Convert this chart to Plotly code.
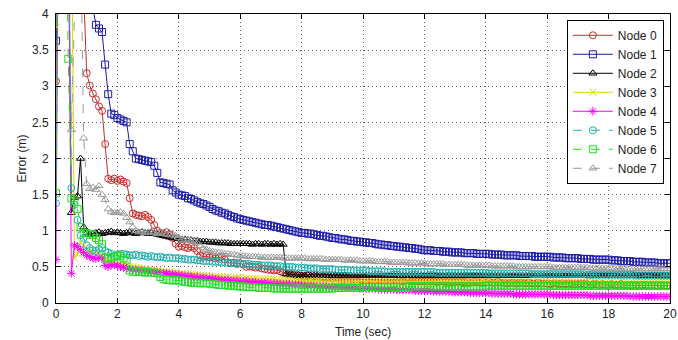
import plotly.graph_objects as go

time_s = [i / 10 for i in range(201)]

node0 = [
    3.07, 7.5, 7.0, 6.6, 6.0, 5.4, 4.9, 4.6, 4.4, 4.3,
    3.18, 3.01, 2.9, 2.82, 2.72, 2.66, 2.2, 1.72, 1.7, 1.72,
    1.69, 1.71, 1.68, 1.66, 1.45, 1.24, 1.22, 1.21, 1.2, 1.22,
    1.19, 1.15, 1.08, 1.0, 0.97, 0.96, 0.98, 0.95, 0.9, 0.82,
    0.78, 0.79, 0.77, 0.76, 0.78, 0.76, 0.72, 0.66, 0.64, 0.65,
    0.63, 0.64, 0.62, 0.63, 0.64, 0.6, 0.56, 0.55, 0.56, 0.54,
    0.55, 0.53, 0.5, 0.51, 0.5, 0.49, 0.5, 0.48, 0.47, 0.46,
    0.46, 0.45, 0.46, 0.44, 0.42, 0.41, 0.4, 0.4, 0.39, 0.38,
    0.38, 0.37, 0.38, 0.36, 0.37, 0.36, 0.35, 0.36, 0.35, 0.35,
    0.34, 0.35, 0.34, 0.34, 0.33, 0.34, 0.33, 0.33, 0.34, 0.33,
    0.33, 0.32, 0.33, 0.32, 0.32, 0.33, 0.32, 0.31, 0.32, 0.31,
    0.32, 0.31, 0.31, 0.3, 0.31, 0.31, 0.3, 0.31, 0.3, 0.3,
    0.3, 0.31, 0.3, 0.3, 0.29, 0.3, 0.3, 0.29, 0.3, 0.29,
    0.29, 0.3, 0.29, 0.29, 0.29, 0.28, 0.29, 0.29, 0.28, 0.29,
    0.28, 0.29, 0.28, 0.28, 0.29, 0.28, 0.28, 0.27, 0.28, 0.28,
    0.27, 0.28, 0.28, 0.27, 0.28, 0.27, 0.27, 0.28, 0.27, 0.27,
    0.27, 0.26, 0.27, 0.27, 0.26, 0.27, 0.26, 0.27, 0.26, 0.26,
    0.26, 0.27, 0.26, 0.26, 0.25, 0.26, 0.26, 0.25, 0.26, 0.25,
    0.25, 0.26, 0.25, 0.25, 0.26, 0.25, 0.25, 0.24, 0.25, 0.25,
    0.24, 0.25, 0.25, 0.24, 0.25, 0.24, 0.24, 0.25, 0.24, 0.24,
    0.24,
]

node1 = [
    3.63, 9.0, 8.6, 8.2, 7.8, 7.4, 7.0, 6.6, 6.2, 5.8,
    5.3, 4.8, 4.1, 3.85, 3.8, 3.75, 3.3, 2.89, 2.62, 2.6,
    2.56, 2.54, 2.52, 2.5, 2.2, 2.1, 2.0, 1.99, 1.98, 1.97,
    1.96, 1.95, 1.9, 1.8, 1.67, 1.66, 1.65, 1.64, 1.56, 1.53,
    1.5, 1.49, 1.48, 1.45, 1.44, 1.42, 1.4, 1.38, 1.37, 1.35,
    1.33, 1.3, 1.28, 1.27, 1.25, 1.24, 1.22, 1.2, 1.19, 1.17,
    1.16, 1.15, 1.14, 1.13, 1.12, 1.11, 1.1, 1.09, 1.08, 1.08,
    1.07, 1.06, 1.05, 1.04, 1.03, 1.02, 1.01, 1.0, 0.99, 0.98,
    0.97, 0.97, 0.96, 0.96, 0.95, 0.94, 0.93, 0.93, 0.92, 0.91,
    0.9, 0.9, 0.89, 0.88, 0.88, 0.87, 0.86, 0.86, 0.85, 0.85,
    0.84, 0.84, 0.83, 0.83, 0.82, 0.81, 0.81, 0.8, 0.8, 0.79,
    0.79, 0.78, 0.78, 0.77, 0.77, 0.76, 0.76, 0.75, 0.75, 0.74,
    0.73, 0.73, 0.73, 0.72, 0.72, 0.72, 0.71, 0.71, 0.71, 0.7,
    0.7, 0.7, 0.7, 0.69, 0.69, 0.69, 0.69, 0.68, 0.68, 0.68,
    0.68, 0.68, 0.67, 0.67, 0.67, 0.67, 0.66, 0.66, 0.66, 0.66,
    0.66, 0.65, 0.65, 0.65, 0.65, 0.65, 0.64, 0.64, 0.64, 0.64,
    0.64, 0.64, 0.63, 0.63, 0.63, 0.63, 0.62, 0.62, 0.62, 0.62,
    0.62, 0.61, 0.61, 0.61, 0.61, 0.6, 0.6, 0.6, 0.6, 0.6,
    0.6, 0.59, 0.59, 0.59, 0.58, 0.58, 0.58, 0.58, 0.57, 0.57,
    0.57, 0.57, 0.56, 0.56, 0.56, 0.56, 0.55, 0.55, 0.55, 0.55,
    0.55,
]

node2 = [
    6.0, 6.5, 6.2, 5.8, 5.4, 1.25, 1.46, 1.48, 2.0, 1.05,
    0.97, 0.95, 0.96, 0.97, 0.98, 0.96, 0.97, 0.98, 0.99, 0.97,
    0.98, 0.97, 0.96, 0.97, 0.98, 0.97, 0.96, 0.97, 0.98, 0.97,
    0.96, 0.97, 0.96, 0.95, 0.94, 0.93, 0.92, 0.91, 0.9, 0.9,
    0.89, 0.88, 0.88, 0.87, 0.87, 0.86, 0.86, 0.85, 0.85, 0.85,
    0.84, 0.84, 0.84, 0.83, 0.83, 0.83, 0.83, 0.82, 0.82, 0.82,
    0.82, 0.82, 0.82, 0.82, 0.81, 0.82, 0.82, 0.81, 0.82, 0.82,
    0.81, 0.82, 0.81, 0.82, 0.81, 0.4, 0.39, 0.39, 0.38, 0.39,
    0.38, 0.38, 0.39, 0.38, 0.38, 0.38, 0.38, 0.38, 0.38, 0.38,
    0.38, 0.38, 0.38, 0.38, 0.38, 0.38, 0.38, 0.38, 0.38, 0.38,
    0.38, 0.38, 0.38, 0.38, 0.38, 0.38, 0.38, 0.38, 0.38, 0.38,
    0.38, 0.38, 0.38, 0.38, 0.38, 0.38, 0.38, 0.38, 0.38, 0.38,
    0.38, 0.38, 0.38, 0.38, 0.38, 0.38, 0.38, 0.38, 0.38, 0.38,
    0.38, 0.38, 0.38, 0.38, 0.38, 0.38, 0.38, 0.38, 0.38, 0.38,
    0.38, 0.38, 0.38, 0.38, 0.38, 0.38, 0.38, 0.38, 0.38, 0.38,
    0.38, 0.38, 0.38, 0.38, 0.38, 0.38, 0.38, 0.38, 0.38, 0.38,
    0.38, 0.38, 0.38, 0.38, 0.38, 0.38, 0.38, 0.38, 0.38, 0.38,
    0.38, 0.38, 0.38, 0.38, 0.38, 0.38, 0.38, 0.38, 0.38, 0.38,
    0.38, 0.38, 0.38, 0.38, 0.38, 0.38, 0.38, 0.38, 0.38, 0.38,
    0.38, 0.38, 0.38, 0.38, 0.38, 0.38, 0.38, 0.38, 0.38, 0.38,
    0.38,
]

node3 = [
    3.82, 8.0, 7.5, 7.0, 6.5, 6.0, 0.62, 0.68, 0.85, 0.8,
    0.75, 0.72, 0.7, 0.68, 0.7, 0.65, 0.6, 0.58, 0.57, 0.56,
    0.55, 0.54, 0.53, 0.52, 0.5, 0.5, 0.49, 0.48, 0.48, 0.47,
    0.46, 0.46, 0.45, 0.45, 0.44, 0.44, 0.43, 0.43, 0.42, 0.42,
    0.41, 0.41, 0.4, 0.4, 0.4, 0.39, 0.39, 0.38, 0.38, 0.38,
    0.37, 0.37, 0.37, 0.36, 0.36, 0.36, 0.36, 0.35, 0.35, 0.35,
    0.35, 0.34, 0.34, 0.34, 0.34, 0.34, 0.33, 0.33, 0.33, 0.33,
    0.33, 0.33, 0.32, 0.32, 0.32, 0.32, 0.32, 0.32, 0.31, 0.31,
    0.31, 0.31, 0.31, 0.31, 0.31, 0.31, 0.31, 0.3, 0.3, 0.3,
    0.3, 0.3, 0.3, 0.3, 0.3, 0.3, 0.3, 0.3, 0.3, 0.3,
    0.3, 0.3, 0.3, 0.3, 0.3, 0.3, 0.3, 0.3, 0.3, 0.3,
    0.3, 0.3, 0.3, 0.3, 0.3, 0.3, 0.3, 0.3, 0.3, 0.3,
    0.3, 0.3, 0.3, 0.3, 0.3, 0.3, 0.3, 0.3, 0.3, 0.3,
    0.3, 0.3, 0.3, 0.3, 0.3, 0.3, 0.3, 0.3, 0.3, 0.3,
    0.3, 0.3, 0.3, 0.3, 0.3, 0.29, 0.29, 0.29, 0.29, 0.29,
    0.29, 0.29, 0.29, 0.29, 0.29, 0.29, 0.29, 0.29, 0.29, 0.29,
    0.29, 0.29, 0.29, 0.29, 0.29, 0.29, 0.29, 0.29, 0.29, 0.29,
    0.29, 0.29, 0.29, 0.29, 0.29, 0.29, 0.29, 0.29, 0.29, 0.29,
    0.29, 0.29, 0.29, 0.29, 0.29, 0.29, 0.29, 0.29, 0.29, 0.29,
    0.29, 0.29, 0.29, 0.29, 0.29, 0.29, 0.29, 0.29, 0.29, 0.29,
    0.29,
]

node4 = [
    0.6, 7.0, 6.5, 6.0, 5.5, 0.41, 0.8, 0.78, 0.74, 0.7,
    0.66, 0.64, 0.62, 0.61, 0.63, 0.62, 0.52, 0.5, 0.53, 0.52,
    0.52, 0.5, 0.49, 0.48, 0.47, 0.46, 0.46, 0.45, 0.45, 0.44,
    0.44, 0.43, 0.43, 0.42, 0.42, 0.41, 0.41, 0.4, 0.4, 0.39,
    0.39, 0.38, 0.38, 0.37, 0.37, 0.36, 0.36, 0.35, 0.35, 0.34,
    0.34, 0.34, 0.33, 0.33, 0.32, 0.32, 0.32, 0.31, 0.31, 0.31,
    0.3, 0.3, 0.3, 0.29, 0.29, 0.29, 0.28, 0.28, 0.28, 0.28,
    0.27, 0.27, 0.27, 0.26, 0.26, 0.26, 0.26, 0.25, 0.25, 0.25,
    0.25, 0.24, 0.24, 0.24, 0.24, 0.23, 0.23, 0.23, 0.23, 0.22,
    0.22, 0.22, 0.22, 0.22, 0.21, 0.21, 0.21, 0.21, 0.21, 0.2,
    0.2, 0.2, 0.2, 0.2, 0.2, 0.19, 0.19, 0.19, 0.19, 0.19,
    0.19, 0.18, 0.18, 0.18, 0.18, 0.18, 0.18, 0.17, 0.17, 0.17,
    0.17, 0.17, 0.17, 0.16, 0.16, 0.16, 0.16, 0.16, 0.16, 0.15,
    0.15, 0.15, 0.15, 0.15, 0.15, 0.14, 0.14, 0.14, 0.14, 0.14,
    0.14, 0.14, 0.13, 0.13, 0.13, 0.13, 0.13, 0.13, 0.13, 0.12,
    0.12, 0.12, 0.12, 0.12, 0.12, 0.12, 0.12, 0.12, 0.12, 0.12,
    0.12, 0.12, 0.11, 0.11, 0.11, 0.11, 0.11, 0.11, 0.11, 0.11,
    0.11, 0.11, 0.11, 0.11, 0.1, 0.1, 0.1, 0.1, 0.1, 0.1,
    0.1, 0.1, 0.1, 0.1, 0.1, 0.1, 0.1, 0.09, 0.09, 0.09,
    0.09, 0.09, 0.09, 0.09, 0.09, 0.09, 0.09, 0.09, 0.09, 0.09,
    0.09,
]

node5 = [
    1.38, 7.0, 6.6, 6.2, 5.8, 1.59, 1.36, 1.15, 0.94, 0.9,
    0.8, 0.76, 0.73, 0.72, 0.75, 0.76, 0.72, 0.7, 0.68, 0.65,
    0.66, 0.68, 0.68, 0.67, 0.66, 0.66, 0.67, 0.65, 0.66, 0.65,
    0.64, 0.65, 0.64, 0.63, 0.64, 0.63, 0.62, 0.63, 0.62, 0.62,
    0.62, 0.61, 0.61, 0.6, 0.6, 0.6, 0.59, 0.59, 0.58, 0.58,
    0.58, 0.57, 0.57, 0.57, 0.56, 0.56, 0.56, 0.55, 0.55, 0.55,
    0.55, 0.54, 0.54, 0.54, 0.53, 0.53, 0.53, 0.52, 0.52, 0.52,
    0.52, 0.51, 0.51, 0.51, 0.5, 0.5, 0.5, 0.5, 0.49, 0.49,
    0.49, 0.49, 0.48, 0.48, 0.48, 0.48, 0.47, 0.47, 0.47, 0.47,
    0.47, 0.46, 0.46, 0.46, 0.46, 0.46, 0.45, 0.45, 0.45, 0.45,
    0.45, 0.45, 0.44, 0.44, 0.44, 0.44, 0.44, 0.44, 0.43, 0.43,
    0.43, 0.43, 0.43, 0.43, 0.43, 0.43, 0.43, 0.43, 0.43, 0.43,
    0.43, 0.43, 0.43, 0.43, 0.42, 0.42, 0.42, 0.42, 0.42, 0.42,
    0.42, 0.42, 0.42, 0.42, 0.42, 0.42, 0.42, 0.42, 0.42, 0.42,
    0.42, 0.41, 0.41, 0.41, 0.41, 0.41, 0.41, 0.41, 0.41, 0.41,
    0.41, 0.41, 0.41, 0.41, 0.41, 0.4, 0.4, 0.4, 0.4, 0.4,
    0.4, 0.4, 0.4, 0.4, 0.4, 0.4, 0.4, 0.4, 0.4, 0.4,
    0.4, 0.4, 0.4, 0.39, 0.39, 0.39, 0.39, 0.39, 0.39, 0.39,
    0.39, 0.39, 0.39, 0.39, 0.39, 0.39, 0.39, 0.39, 0.39, 0.38,
    0.38, 0.38, 0.38, 0.38, 0.38, 0.38, 0.38, 0.38, 0.38, 0.38,
    0.38,
]

node6 = [
    1.52, 7.5, 7.0, 6.0, 3.38, 1.45, 1.42, 1.3, 1.05, 0.97,
    0.97, 0.95, 0.94, 0.9, 0.87, 0.82, 0.62, 0.62, 0.63, 0.64,
    0.66, 0.65, 0.62, 0.6, 0.45, 0.43, 0.43, 0.44, 0.43, 0.42,
    0.43, 0.42, 0.42, 0.41, 0.36, 0.33, 0.32, 0.32, 0.31, 0.32,
    0.31, 0.3, 0.29, 0.29, 0.28, 0.28, 0.28, 0.27, 0.28, 0.27,
    0.27, 0.26, 0.26, 0.25, 0.25, 0.25, 0.24, 0.24, 0.24, 0.23,
    0.23, 0.23, 0.22, 0.22, 0.22, 0.22, 0.21, 0.21, 0.21, 0.21,
    0.21, 0.2, 0.2, 0.2, 0.2, 0.2, 0.2, 0.2, 0.2, 0.2,
    0.2, 0.2, 0.2, 0.2, 0.2, 0.2, 0.2, 0.2, 0.2, 0.2,
    0.2, 0.21, 0.21, 0.21, 0.21, 0.21, 0.21, 0.21, 0.21, 0.21,
    0.22, 0.22, 0.22, 0.22, 0.22, 0.22, 0.22, 0.22, 0.22, 0.22,
    0.22, 0.22, 0.22, 0.22, 0.22, 0.23, 0.23, 0.23, 0.23, 0.23,
    0.23, 0.23, 0.23, 0.23, 0.23, 0.23, 0.23, 0.23, 0.23, 0.23,
    0.23, 0.23, 0.23, 0.23, 0.23, 0.23, 0.23, 0.23, 0.23, 0.23,
    0.24, 0.24, 0.24, 0.24, 0.24, 0.24, 0.24, 0.24, 0.24, 0.24,
    0.24, 0.24, 0.24, 0.24, 0.24, 0.24, 0.24, 0.24, 0.24, 0.24,
    0.24, 0.24, 0.24, 0.24, 0.24, 0.24, 0.24, 0.24, 0.24, 0.24,
    0.24, 0.24, 0.24, 0.24, 0.24, 0.24, 0.24, 0.24, 0.24, 0.24,
    0.24, 0.24, 0.24, 0.24, 0.24, 0.24, 0.24, 0.24, 0.24, 0.24,
    0.24, 0.24, 0.24, 0.24, 0.24, 0.24, 0.24, 0.24, 0.24, 0.24,
    0.24,
]

node7 = [
    6.0, 6.5, 6.2, 5.9, 5.6, 2.4, 5.0, 5.5, 5.2, 2.28,
    1.65, 1.58, 1.6, 1.57, 1.62, 1.5, 1.43, 1.3, 1.26, 1.25,
    1.25, 1.26, 1.24, 1.18, 1.12, 1.05, 1.0, 0.98, 0.99, 0.97,
    0.98, 0.99, 0.97, 0.96, 0.97, 0.96, 0.95, 0.94, 0.95, 0.93,
    0.9, 0.88, 0.87, 0.87, 0.86, 0.85, 0.83, 0.79, 0.76, 0.74,
    0.72, 0.71, 0.7, 0.7, 0.69, 0.68, 0.68, 0.67, 0.67, 0.66,
    0.65, 0.65, 0.65, 0.64, 0.64, 0.64, 0.64, 0.63, 0.63, 0.63,
    0.63, 0.63, 0.63, 0.63, 0.62, 0.62, 0.62, 0.62, 0.62, 0.62,
    0.62, 0.62, 0.61, 0.61, 0.61, 0.61, 0.61, 0.61, 0.6, 0.6,
    0.6, 0.6, 0.6, 0.6, 0.59, 0.59, 0.59, 0.59, 0.59, 0.58,
    0.58, 0.58, 0.58, 0.58, 0.57, 0.57, 0.57, 0.57, 0.57, 0.56,
    0.56, 0.56, 0.56, 0.56, 0.56, 0.55, 0.55, 0.55, 0.55, 0.55,
    0.55, 0.54, 0.54, 0.54, 0.54, 0.54, 0.54, 0.53, 0.53, 0.53,
    0.53, 0.53, 0.53, 0.53, 0.52, 0.52, 0.52, 0.52, 0.52, 0.52,
    0.52, 0.52, 0.51, 0.51, 0.51, 0.51, 0.51, 0.51, 0.51, 0.51,
    0.5, 0.5, 0.5, 0.5, 0.5, 0.5, 0.5, 0.5, 0.5, 0.5,
    0.5, 0.5, 0.49, 0.49, 0.49, 0.49, 0.49, 0.49, 0.49, 0.49,
    0.49, 0.49, 0.49, 0.49, 0.48, 0.48, 0.48, 0.48, 0.48, 0.48,
    0.48, 0.48, 0.48, 0.48, 0.48, 0.48, 0.47, 0.47, 0.47, 0.47,
    0.47, 0.47, 0.47, 0.47, 0.47, 0.47, 0.47, 0.47, 0.47, 0.47,
    0.47,
]

series_names = ["Node 0", "Node 1", "Node 2", "Node 3", "Node 4", "Node 5", "Node 6", "Node 7"]
series_values = [node0, node1, node2, node3, node4, node5, node6, node7]
for vals in series_values:
    assert len(vals) == len(time_s), len(vals)

colors = ["#cc2a2a", "#1c1ca8", "#000000", "#d8d800", "#ff00ff", "#1fb0b0", "#22dd22", "#9a9a9a"]
symbols = ["circle-open", "square-open", "triangle-up-open", "x-thin-open",
           "asterisk-open", "circle-open", "square-open", "triangle-up-open"]
dashes = ["solid", "solid", "solid", "solid", "solid", "dash", "dash", "dash"]

fig = go.Figure()
for name, vals, c, s, d in zip(series_names, series_values, colors, symbols, dashes):
    fig.add_trace(go.Scatter(
        x=time_s, y=vals, name=name, mode="lines+markers",
        line=dict(color=c, width=1, dash=d),
        marker=dict(symbol=s, size=7, color=c, line=dict(color=c, width=1)),
    ))

FONT = "Liberation Sans, Arial"
axis_common = dict(
    showline=True, linecolor="black", linewidth=1, mirror="ticks",
    ticks="inside", ticklen=5, tickcolor="black",
    showgrid=True, gridcolor="#606060", griddash="1px,3px", gridwidth=1,
    zeroline=False, automargin=False,
    tickfont=dict(family=FONT, size=12, color="#222"),
)

fig.update_layout(
    width=678, height=340,
    margin=dict(l=56, r=8, t=14, b=37),
    paper_bgcolor="white", plot_bgcolor="white",
    font=dict(family=FONT, size=12, color="#222"),
    showlegend=True,
    legend=dict(
        x=0.99, y=0.98, xanchor="right", yanchor="top",
        bgcolor="white", bordercolor="black", borderwidth=1,
        font=dict(size=12, color="#222"), itemwidth=40, tracegroupgap=0,
    ),
    xaxis=dict(range=[0, 20], dtick=2, ticklabelstandoff=0, **axis_common),
    yaxis=dict(range=[0, 4], dtick=0.5, ticklabelstandoff=4, **axis_common),
    annotations=[
        dict(text="Time (sec)", xref="paper", yref="paper", x=0.5, y=-0.1,
             xanchor="center", yanchor="middle", showarrow=False,
             font=dict(family=FONT, size=12, color="#222")),
        dict(text="Error (m)", xref="paper", yref="paper", x=-0.057, y=0.5,
             xanchor="center", yanchor="middle", showarrow=False, textangle=-90,
             font=dict(family=FONT, size=12, color="#222")),
    ],
)

fig.write_html("out.html", config={"displayModeBar": False})

# remove the browser's default page margin so the 678x340 figure fills the window exactly
with open("out.html", "r", encoding="utf-8") as fh:
    page = fh.read()
page = page.replace("<body>", '<body style="margin:0;padding:0;overflow:hidden">', 1)
with open("out.html", "w", encoding="utf-8") as fh:
    fh.write(page)
